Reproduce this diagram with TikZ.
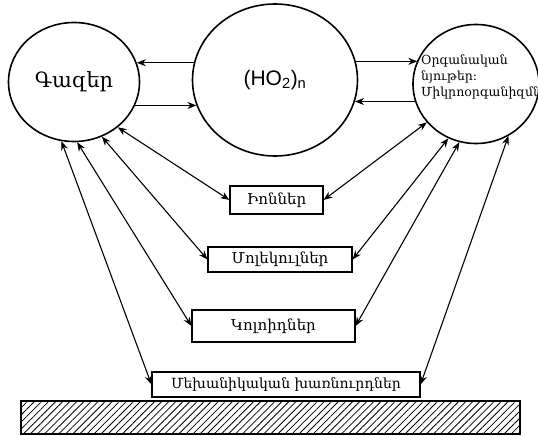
\documentclass[tikz,border=0pt]{standalone}
\usepackage{fontspec}
\setmainfont{DejaVu Serif}
\newfontfamily\hofont{Liberation Sans}
\usepackage{tikz}
\usetikzlibrary{shapes.geometric, arrows.meta, patterns.meta}

\begin{document}
\begin{tikzpicture}[x=1pt, y=-1pt,
    blob/.style={ellipse, draw, line width=1.6pt, inner sep=0pt},
    phase/.style={draw, rectangle, line width=1.1pt, inner sep=0pt, font=\fontsize{15}{17}\selectfont},
    flow/.style={-{Stealth[length=9pt, width=7pt]}, line width=1.1pt},
    swap/.style={{Stealth[length=9pt, width=7pt]}-{Stealth[length=9pt, width=7pt]}, line width=1.1pt}]
  \useasboundingbox (0,0) rectangle (538,436);
  \node[blob, minimum width=131pt, minimum height=119pt, font=\fontsize{21}{24}\selectfont] (gas) at (74,82) {Գազեր};
  \node[blob, minimum width=165pt, minimum height=152pt, font=\hofont\fontsize{21}{25}\selectfont] (ho) at (275,80) {(HO\textsubscript{2})\textsubscript{n}};
  \node[blob, minimum width=126pt, minimum height=119pt] (org) at (476,84) {};
  \node[anchor=west, align=left, inner sep=0pt, font=\fontsize{12.5}{16}\selectfont] (orgtxt) at (421,77) {Օրգանական\\նյութեր:\\Միկրոօրգանիզմներ};
  \node[phase, minimum width=93pt, minimum height=28pt] (ion) at (276.5,200) {Իոններ};
  \node[phase, minimum width=144pt, minimum height=25pt] (mol) at (280,259.5) {Մոլեկուլներ};
  \node[phase, minimum width=163pt, minimum height=32pt] (col) at (273.5,326) {Կոլոիդներ};
  \node[phase, minimum width=268pt, minimum height=25pt, font=\fontsize{14}{16}\selectfont] (mix) at (286,384.5) {Մեխանիկական խառնուրդներ};
  \draw[line width=1.1pt, pattern={Lines[angle=45, distance=5pt, line width=0.8pt]}] (21,401) rectangle (520,434);
  % gases and the middle circle
  \draw[flow] (ho.168) -- (ho.168 -| gas.17);
  \draw[flow] (gas.-21) -- (gas.-21 -| ho.198);
  % middle circle and organic matter
  \draw[flow] (ho.13) -- (ho.13 -| org.158);
  \draw[flow] (org.196) -- (org.196 -| ho.-15);
  % gases to the phases
  \draw[swap] (gas.-46) -- (ion.west);
  \draw[swap] (gas.-63) -- (mol.west);
  \draw[swap] (gas.-87) -- (col.west);
  \draw[swap] (gas.-102) -- (mix.west);
  % organic matter to the phases
  \draw[swap] (org.218) -- (ion.east);
  \draw[swap] (org.243) -- (mol.east);
  \draw[swap] (org.254) -- (col.east);
  \draw[swap] (org.-58) -- (mix.east);
\end{tikzpicture}
\end{document}
